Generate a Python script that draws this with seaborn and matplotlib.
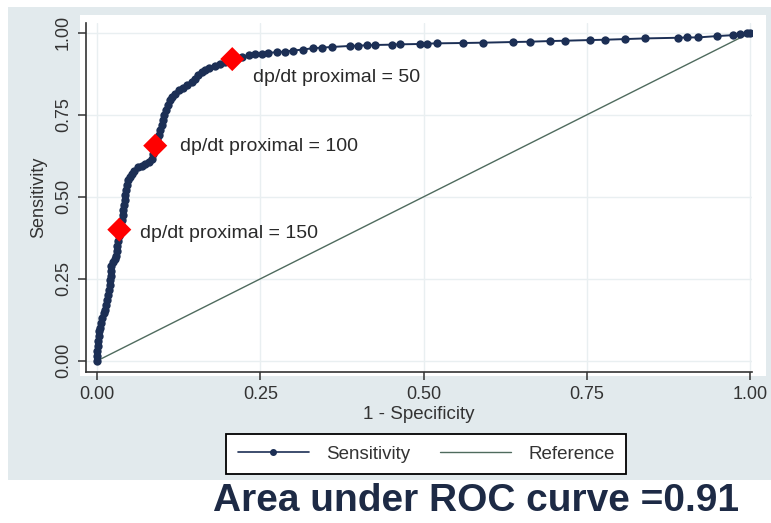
import matplotlib
matplotlib.use('Agg')
import numpy as np
import pandas as pd
import matplotlib.pyplot as plt
import seaborn as sns
from matplotlib.patches import Rectangle
from matplotlib.lines import Line2D

sns.set_style('ticks')
plt.rcParams['font.family'] = ['Liberation Sans', 'DejaVu Sans']

# ROC curve points (1 - specificity, sensitivity)
fpr = [0.000, 0.000, 0.000, 0.002, 0.002, 0.003, 0.003, 0.005, 0.006, 0.008,
       0.010, 0.012, 0.014, 0.015, 0.017, 0.018, 0.019, 0.020, 0.021, 0.021,
       0.022, 0.025, 0.027, 0.029, 0.030, 0.031, 0.032, 0.033, 0.034, 0.036,
       0.038, 0.039, 0.040, 0.041, 0.042, 0.043, 0.044, 0.046, 0.048, 0.050,
       0.053, 0.057, 0.062, 0.068, 0.074, 0.080, 0.084, 0.086, 0.088, 0.090,
       0.092, 0.095, 0.097, 0.099, 0.101, 0.103, 0.106, 0.108, 0.111, 0.115,
       0.120, 0.125, 0.132, 0.138, 0.145, 0.150, 0.155, 0.160, 0.166, 0.172,
       0.180, 0.188, 0.196, 0.205, 0.214, 0.222, 0.232, 0.242, 0.252, 0.262,
       0.275, 0.288, 0.300, 0.315, 0.330, 0.345, 0.360, 0.387, 0.400, 0.413,
       0.426, 0.452, 0.464, 0.495, 0.505, 0.521, 0.560, 0.591, 0.637, 0.663,
       0.694, 0.717, 0.755, 0.778, 0.809, 0.839, 0.890, 0.903, 0.920, 0.949,
       0.974, 0.985, 0.995, 1.000]
tpr = [0.000, 0.015, 0.030, 0.045, 0.060, 0.075, 0.090, 0.100, 0.115, 0.130,
       0.145, 0.155, 0.170, 0.185, 0.200, 0.215, 0.230, 0.245, 0.260, 0.275,
       0.290, 0.300, 0.310, 0.320, 0.335, 0.350, 0.365, 0.380, 0.400, 0.415,
       0.430, 0.445, 0.460, 0.475, 0.490, 0.505, 0.520, 0.535, 0.550, 0.560,
       0.570, 0.580, 0.590, 0.595, 0.600, 0.605, 0.615, 0.630, 0.645, 0.660,
       0.675, 0.690, 0.705, 0.720, 0.735, 0.750, 0.765, 0.780, 0.795, 0.805,
       0.815, 0.825, 0.832, 0.840, 0.850, 0.860, 0.870, 0.880, 0.887, 0.893,
       0.898, 0.905, 0.910, 0.917, 0.922, 0.927, 0.931, 0.934, 0.937, 0.939,
       0.941, 0.943, 0.946, 0.949, 0.953, 0.955, 0.957, 0.960, 0.961, 0.962,
       0.963, 0.964, 0.965, 0.966, 0.967, 0.968, 0.969, 0.970, 0.972, 0.973,
       0.975, 0.976, 0.978, 0.979, 0.981, 0.983, 0.985, 0.986, 0.986, 0.990,
       0.993, 0.995, 0.998, 1.000]

# labelled cut-off points
cut_fpr = [0.207, 0.089, 0.034]
cut_tpr = [0.920, 0.656, 0.400]
cut_labels = ['dp/dt proximal = 50', 'dp/dt proximal = 100', 'dp/dt proximal = 150']
# label offsets from each diamond, in pixels
cut_offsets = [(21, -18), (25, -1), (21, -4)]

ref_x = [0.0, 1.0]
ref_y = [0.0, 1.0]
ticks = [0.0, 0.25, 0.5, 0.75, 1.0]
tick_labels = ['0.00', '0.25', '0.50', '0.75', '1.00']
auc_text = 'Area under ROC curve =0.91'

NAVY = '#1c2f55'
REF_COL = '#4f6b5e'
BG = '#e2eaed'

W, H = 771, 523
fig = plt.figure(figsize=(W / 100, H / 100), dpi=100)
fig.patch.set_facecolor('white')


def px_rect(x0, y0, x1, y1, **kw):
    # rectangle given in pixel coords (top-left origin)
    return Rectangle((x0 / W, 1 - y1 / H), (x1 - x0) / W, (y1 - y0) / H,
                     transform=fig.transFigure, zorder=-2, **kw)


fig.patches.append(px_rect(8, 7, W, 480, facecolor=BG, edgecolor='none'))
fig.patches.append(px_rect(80, 15, 766, 376, facecolor='white', edgecolor='none'))

ax = fig.add_axes([86 / W, 1 - 372 / H, (752 - 86) / W, (372 - 23) / H])
ax.set_zorder(1)
ax.set_facecolor('white')

roc = pd.DataFrame({'fpr': fpr, 'tpr': tpr})
sns.lineplot(data=roc, x='fpr', y='tpr', sort=False, estimator=None, ax=ax,
             color=NAVY, lw=1.4, marker='o', markersize=6, markeredgewidth=0,
             zorder=3)
sns.lineplot(x=ref_x, y=ref_y, ax=ax, color=REF_COL, lw=1.0, zorder=2)
sns.scatterplot(x=cut_fpr, y=cut_tpr, ax=ax, marker='D', color='#ff0000',
                s=150, edgecolor='none', zorder=4)
for xv, yv, lab, off in zip(cut_fpr, cut_tpr, cut_labels, cut_offsets):
    ax.annotate(lab, (xv, yv), xytext=off, textcoords='offset pixels',
                fontsize=14, color='#2a2a2a', va='center', ha='left')

ax.set_xlim(-0.017, 1.003)
ax.set_ylim(-0.034, 1.03)
ax.set_xticks(ticks)
ax.set_xticklabels(tick_labels, fontsize=13, color='#333333')
ax.set_yticks(ticks)
ax.set_yticklabels(tick_labels, fontsize=13, color='#333333', rotation=90, va='center')
ax.grid(True, color='#e9eff1', lw=1.0)
ax.set_axisbelow(True)
ax.tick_params(direction='out', length=6, width=1.1, color='#333333', pad=4)
for side in ['top', 'right']:
    ax.spines[side].set_visible(False)
for side in ['left', 'bottom']:
    ax.spines[side].set_color('#333333')
    ax.spines[side].set_linewidth(1.2)
ax.set_xlabel('1 - Specificity', fontsize=13.5, color='#333333', labelpad=2)
ax.set_ylabel('Sensitivity', fontsize=13, color='#333333', labelpad=6)

handles = [Line2D([], [], color=NAVY, lw=1.2, marker='o', markersize=4),
           Line2D([], [], color=REF_COL, lw=1.0)]
leg = fig.legend(handles, ['Sensitivity', 'Reference'], ncol=2,
                 loc='center', bbox_to_anchor=(426 / W, 1 - 454 / H),
                 frameon=True, fancybox=False, fontsize=13.5, handlelength=3.8,
                 columnspacing=1.6, handletextpad=0.9, borderpad=0.6,
                 labelcolor='#333333', framealpha=1, facecolor='white')
leg.get_frame().set_edgecolor('black')
leg.get_frame().set_linewidth(1.3)

fig.text(476 / W, 1 - 501 / H, auc_text, fontsize=28, fontweight='bold',
         color='#1d2a45', ha='center', va='center')

fig.savefig('out.png', dpi=100)
